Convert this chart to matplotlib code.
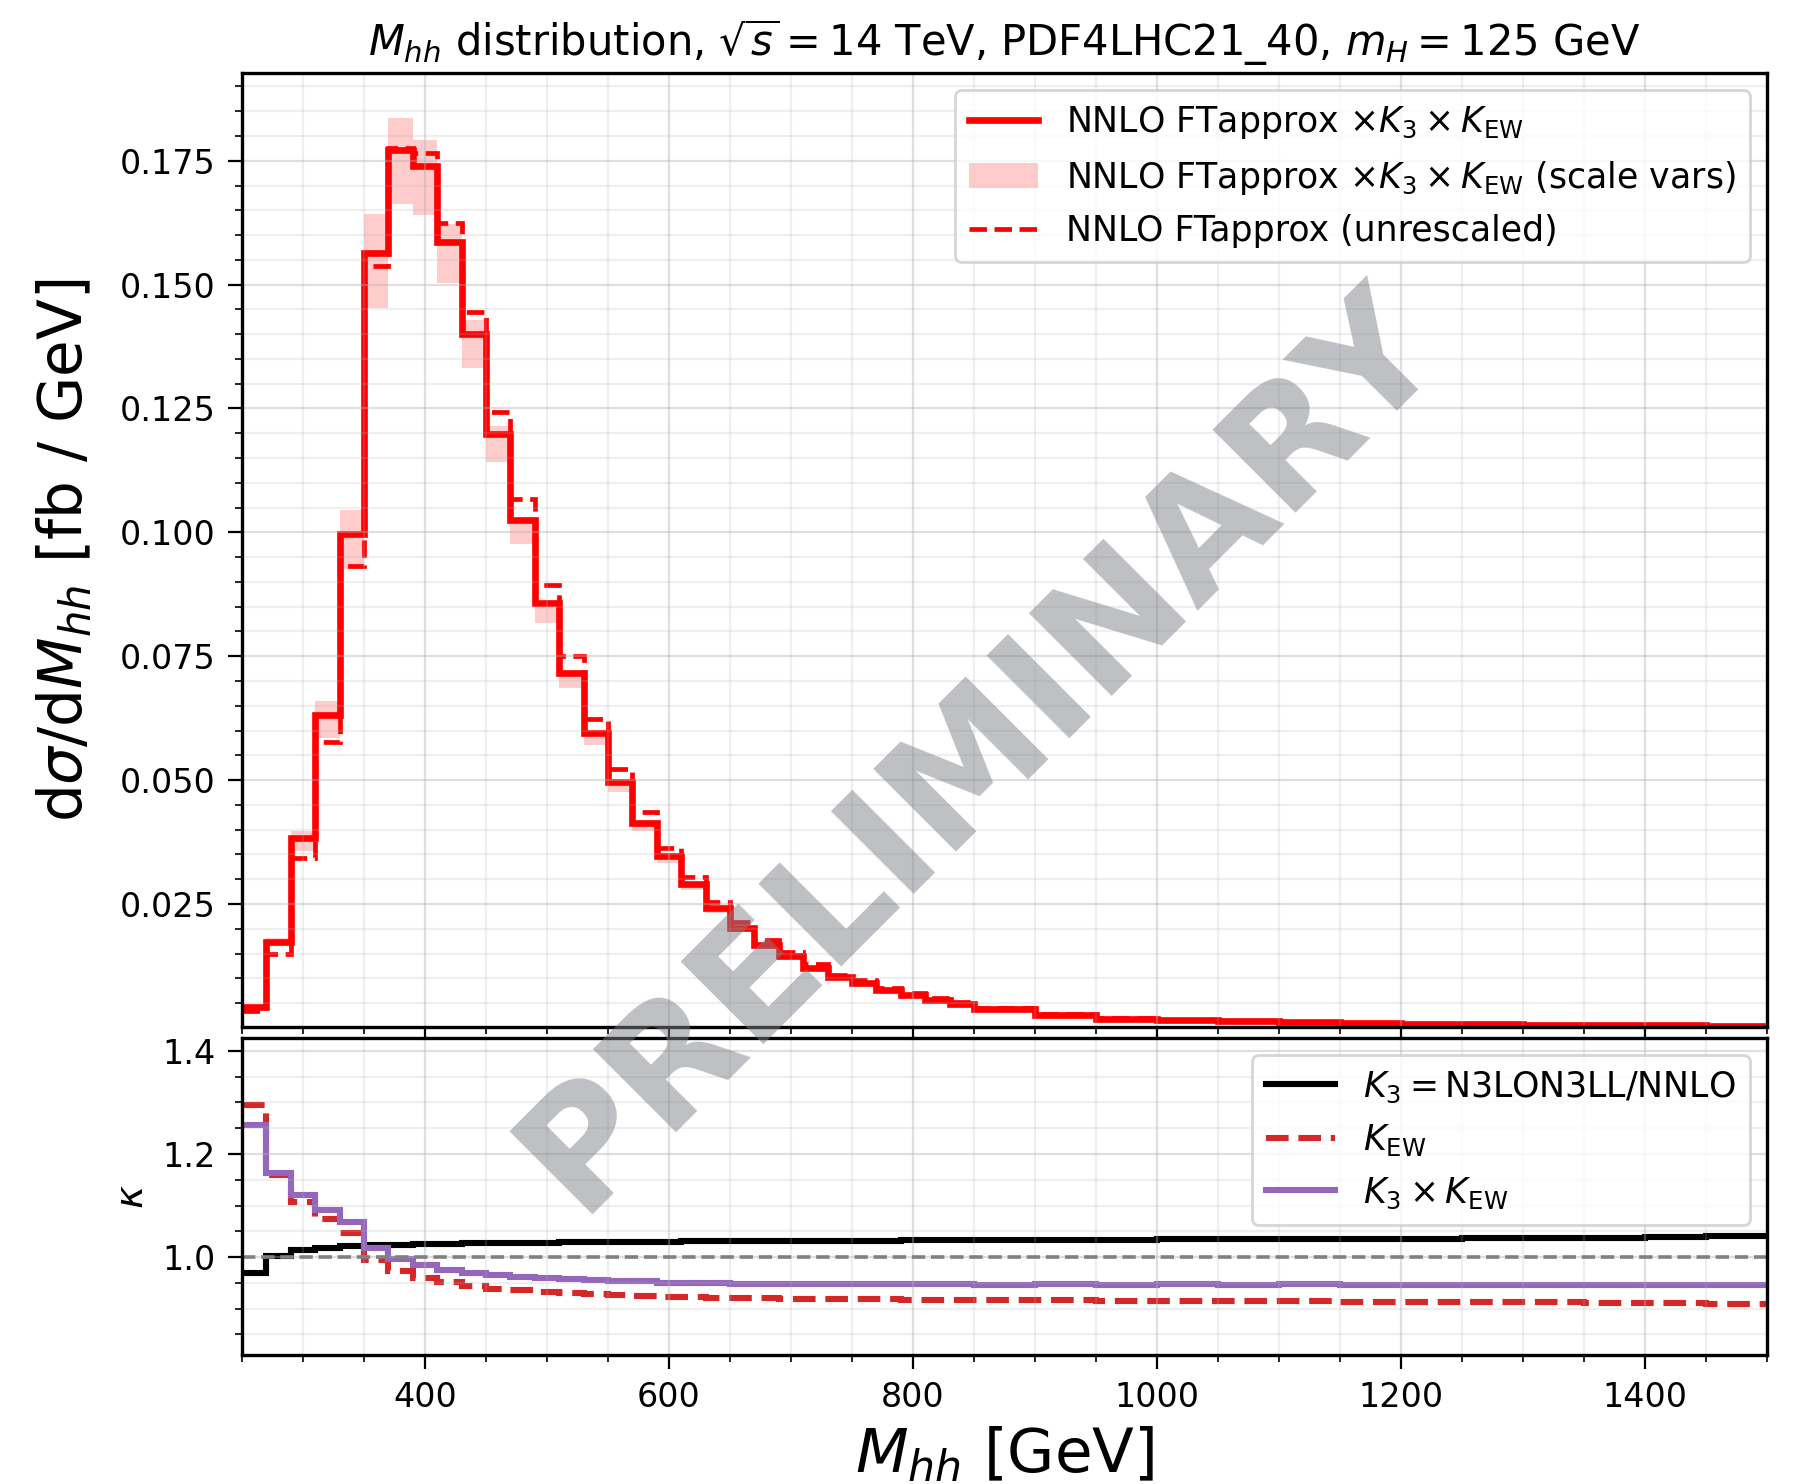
import numpy as np
import matplotlib.pyplot as plt
from matplotlib.ticker import AutoMinorLocator

# bin edges [GeV]: 20 GeV bins up to 850, then 50 GeV bins
edges = [250, 270, 290, 310, 330, 350, 370, 390, 410, 430, 450, 470, 490, 510,
         530, 550, 570, 590, 610, 630, 650, 670, 690, 710, 730, 750, 770, 790,
         810, 830, 850, 900, 950, 1000, 1050, 1100, 1150, 1200, 1250, 1300,
         1350, 1400, 1450, 1500]

# NNLO FTapprox x K3 x KEW  [fb/GeV]
nnlo_resc = [0.0043, 0.0174, 0.0383, 0.0631, 0.0996, 0.1563, 0.1771, 0.1739,
             0.1586, 0.1400, 0.1198, 0.1025, 0.0857, 0.0717, 0.0596, 0.0497,
             0.0414, 0.0346, 0.0290, 0.0241, 0.0202, 0.0168, 0.0145, 0.0121,
             0.0102, 0.0091, 0.0077, 0.0067, 0.0057, 0.0049, 0.0039, 0.0027,
             0.0019, 0.0015, 0.0013, 0.0011, 0.0009, 0.0008, 0.0007, 0.0006,
             0.00055, 0.0005, 0.00045]
# scale variation envelope
band_lo = [0.0041, 0.0165, 0.0357, 0.0585, 0.0927, 0.1452, 0.1662, 0.1641,
           0.1504, 0.1332, 0.1142, 0.0977, 0.0818, 0.0686, 0.0570, 0.0476,
           0.0398, 0.0332, 0.0278, 0.0231, 0.0194, 0.0161, 0.0139, 0.0116,
           0.0098, 0.0087, 0.0074, 0.0064, 0.0055, 0.0047, 0.0037, 0.0026,
           0.0018, 0.00144, 0.00125, 0.00105, 0.00086, 0.00077, 0.00067,
           0.00058, 0.00053, 0.00048, 0.00043]
band_hi = [0.0046, 0.0182, 0.0398, 0.0659, 0.1046, 0.1642, 0.1837, 0.1792,
           0.1623, 0.1428, 0.1215, 0.1025, 0.0857, 0.0717, 0.0596, 0.0497,
           0.0414, 0.0346, 0.0290, 0.0241, 0.0202, 0.0168, 0.0145, 0.0121,
           0.0102, 0.0091, 0.0077, 0.0067, 0.0057, 0.0049, 0.0039, 0.0027,
           0.0019, 0.0015, 0.0013, 0.0011, 0.0009, 0.0008, 0.0007, 0.0006,
           0.00055, 0.0005, 0.00045]
# NNLO FTapprox, unrescaled
nnlo = [0.0034, 0.0149, 0.0342, 0.0577, 0.0932, 0.1537, 0.1776, 0.1766,
        0.1625, 0.1445, 0.1242, 0.1068, 0.0893, 0.0751, 0.0624, 0.0522,
        0.0435, 0.0363, 0.0305, 0.0254, 0.0213, 0.0177, 0.0153, 0.0128,
        0.0107, 0.0096, 0.0081, 0.0071, 0.0060, 0.0052, 0.0041, 0.0029,
        0.0020, 0.0016, 0.00135, 0.00115, 0.00095, 0.00084, 0.00074,
        0.00063, 0.00058, 0.00053, 0.00048]

k3 = [0.970, 1.003, 1.013, 1.018, 1.021, 1.023, 1.024, 1.025, 1.026, 1.027,
      1.027, 1.028, 1.028, 1.029, 1.029, 1.030, 1.030, 1.030, 1.031, 1.031,
      1.031, 1.031, 1.032, 1.032, 1.032, 1.032, 1.032, 1.033, 1.033, 1.033,
      1.033, 1.034, 1.034, 1.035, 1.035, 1.036, 1.036, 1.036, 1.037, 1.037,
      1.038, 1.039, 1.040]
kew = [1.296, 1.160, 1.106, 1.073, 1.046, 0.994, 0.973, 0.960, 0.951, 0.944,
       0.939, 0.936, 0.933, 0.930, 0.928, 0.926, 0.925, 0.923, 0.922, 0.921,
       0.920, 0.920, 0.919, 0.919, 0.918, 0.918, 0.918, 0.917, 0.917, 0.917,
       0.916, 0.916, 0.915, 0.915, 0.914, 0.914, 0.913, 0.913, 0.912, 0.912,
       0.911, 0.910, 0.909]

k3 = np.array(k3)
kew = np.array(kew)

fig = plt.figure(figsize=(8.995, 7.42), dpi=200)
ax = fig.add_axes([0.1345, 0.308, 0.8477, 0.6428])
axr = fig.add_axes([0.1345, 0.0869, 0.8477, 0.2136], sharex=ax)

# top panel
ax.stairs(band_hi, edges, baseline=band_lo, fill=True, color='red', alpha=0.2,
          lw=0, label=r'NNLO FTapprox $\times K_3 \times K_{\rm EW}$ (scale vars)')
ax.stairs(nnlo_resc, edges, baseline=None, color='red', lw=2.4,
          label=r'NNLO FTapprox $\times K_3 \times K_{\rm EW}$')
ax.stairs(nnlo, edges, baseline=None, color='red', lw=1.7, ls='--',
          label='NNLO FTapprox (unrescaled)')
h, l = ax.get_legend_handles_labels()
ax.legend([h[1], h[0], h[2]], [l[1], l[0], l[2]], loc='upper right', fontsize=12.5)
ax.set_ylabel(r'd$\sigma$/d$M_{hh}$ [fb / GeV]', fontsize=21.5, labelpad=9)
ax.set_ylim(0.0002, 0.1927)
ax.set_title(r'$M_{hh}$ distribution, $\sqrt{s} = 14$ TeV, PDF4LHC21_40, $m_H = 125$ GeV',
             fontsize=15)
ax.tick_params(labelbottom=False, labelsize=12)

# ratio panel
axr.stairs(k3, edges, baseline=None, color='black', lw=2.2,
           label=r'$K_3 = $N3LON3LL/NNLO')
axr.stairs(kew, edges, baseline=None, color='tab:red', lw=2.2, ls='--',
           label=r'$K_{\rm EW}$')
axr.stairs(k3 * kew, edges, baseline=None, color='tab:purple', lw=2.2,
           label=r'$K_3 \times K_{\rm EW}$')
axr.axhline(1.0, color='gray', lw=1.3, ls='--')
axr.set_ylim(0.81, 1.425)
axr.set_yticks([1.0, 1.2, 1.4])
axr.set_ylabel(r'$\kappa$', fontsize=14)
axr.set_xlabel(r'$M_{hh}$ [GeV]', fontsize=22)
axr.legend(loc='upper right', fontsize=12.5)
axr.tick_params(labelsize=12)
axr.set_xlim(250, 1500)

for a in (ax, axr):
    a.xaxis.set_minor_locator(AutoMinorLocator())
    a.yaxis.set_minor_locator(AutoMinorLocator())
    a.tick_params(which='major', length=5, pad=4.5)
    a.tick_params(which='minor', length=2.5)
    a.grid(which='major', color='#b0b0b0', alpha=0.4, lw=0.8)
    a.grid(which='minor', color='#b0b0b0', alpha=0.2, lw=0.8)
    for s in a.spines.values():
        s.set_linewidth(1.2)

fig.text(0.545, 0.495, 'PRELIMINARY', rotation=45, fontsize=58, weight='bold',
         color='#7d8189', alpha=0.5, ha='center', va='center', zorder=10)

fig.savefig('out.png', dpi=200)
